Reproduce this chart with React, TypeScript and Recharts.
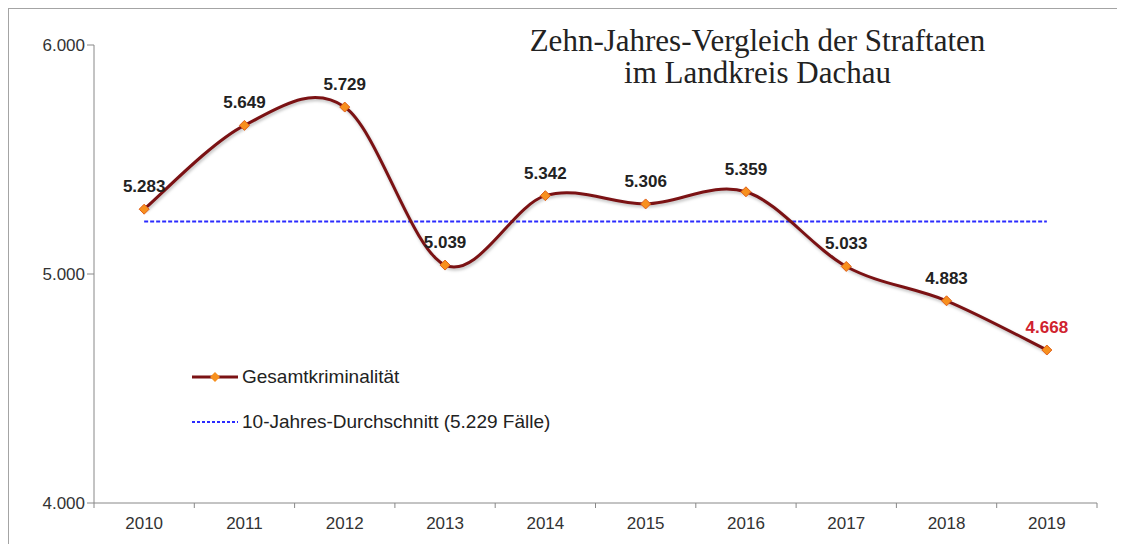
import { LineChart, Line, XAxis, YAxis, ReferenceLine, LabelList } from 'recharts';

// Straftaten im Landkreis Dachau, 2010 bis 2019
const years = ['2010', '2011', '2012', '2013', '2014', '2015', '2016', '2017', '2018', '2019'];
const offences = [5283, 5649, 5729, 5039, 5342, 5306, 5359, 5033, 4883, 4668];
const average = 5229;
const yTicks = [4000, 5000, 6000];
const highlightYear = '2019';

const titleLines = ['Zehn-Jahres-Vergleich der Straftaten', 'im Landkreis Dachau'];
const seriesName = 'Gesamtkriminalität';
const averageName = '10-Jahres-Durchschnitt (5.229 Fälle)';

const W = 1125;
const H = 544;
const PLOT_LEFT = 94;
const PLOT_RIGHT = 1097;
const BAND = (PLOT_RIGHT - PLOT_LEFT) / years.length;
const FONT = '"Liberation Sans", Arial, sans-serif';

const data = years.map((year, i) => ({ year, value: offences[i] }));

// 1.234 style thousands separator
const fmt = (v: number) => String(v).replace(/\B(?=(\d{3})+(?!\d))/g, '.');

// Excel-like smoothed line (Catmull-Rom through every point)
const smoothCurve = (context: any) => {
  let pts: number[][] = [];
  return {
    areaStart() {},
    areaEnd() {},
    lineStart() {
      pts = [];
    },
    point(x: number, y: number) {
      pts.push([+x, +y]);
    },
    lineEnd() {
      if (!pts.length) return;
      context.moveTo(pts[0][0], pts[0][1]);
      for (let i = 0; i < pts.length - 1; i++) {
        const p0 = pts[Math.max(i - 1, 0)];
        const p1 = pts[i];
        const p2 = pts[i + 1];
        const p3 = pts[Math.min(i + 2, pts.length - 1)];
        context.bezierCurveTo(
          p1[0] + (p2[0] - p0[0]) / 6,
          p1[1] + (p2[1] - p0[1]) / 6,
          p2[0] - (p3[0] - p1[0]) / 6,
          p2[1] - (p3[1] - p1[1]) / 6,
          p2[0],
          p2[1]
        );
      }
    },
  };
};

const Diamond = (props: any) => {
  const { cx, cy } = props;
  if (cx == null || cy == null) return null;
  const r = 5;
  return (
    <path
      d={`M${cx},${cy - r}L${cx + r},${cy}L${cx},${cy + r}L${cx - r},${cy}Z`}
      fill="#f7901e"
      stroke="#e0601a"
      strokeWidth={1}
    />
  );
};

const XTick = (props: any) => {
  const { x, y, payload, index } = props;
  const left = x - BAND / 2;
  const isLast = index === years.length - 1;
  return (
    <g>
      <line x1={left} y1={y} x2={left} y2={y + 5} stroke="#888" />
      {isLast && <line x1={x + BAND / 2} y1={y} x2={x + BAND / 2} y2={y + 5} stroke="#888" />}
      <text x={x} y={y + 26} textAnchor="middle" fontSize={17} fontFamily={FONT} fill="#333">
        {payload.value}
      </text>
    </g>
  );
};

const ValueLabel = (props: any) => {
  const { x, y, value, index } = props;
  const red = years[index] === highlightYear;
  return (
    <text
      x={x}
      y={y - 17}
      textAnchor="middle"
      fontSize={17}
      fontWeight="bold"
      fontFamily={FONT}
      fill={red ? '#d0222e' : '#222'}
    >
      {fmt(value)}
    </text>
  );
};

const LegendBox = () => (
  <div
    style={{
      position: 'absolute',
      left: 183,
      top: 357,
      fontFamily: FONT,
      fontSize: 19,
      color: '#222',
      lineHeight: '22px',
    }}
  >
    <div style={{ display: 'flex', alignItems: 'center', height: 22 }}>
      <svg width={50} height={12}>
        <line x1={0} y1={6} x2={46} y2={6} stroke="#7b1214" strokeWidth={3} />
        <path d="M23,1L28,6L23,11L18,6Z" fill="#f7901e" />
      </svg>
      <span>{seriesName}</span>
    </div>
    <div style={{ display: 'flex', alignItems: 'center', height: 22, marginTop: 23 }}>
      <svg width={50} height={12}>
        <line x1={0} y1={6} x2={46} y2={6} stroke="#2b2bff" strokeWidth={2} strokeDasharray="3 2" />
      </svg>
      <span>{averageName}</span>
    </div>
  </div>
);

export default function App() {
  return (
    <div
      style={{
        position: 'relative',
        width: 1113,
        height: 560,
        marginLeft: -1,
        marginTop: -1,
        border: '2px solid #a4a4a4',
        boxSizing: 'border-box',
        background: '#fff',
      }}
    >
      <div style={{ position: 'absolute', left: -9, top: -9, width: W, height: H }}>
        <LineChart
          width={W}
          height={H}
          data={data}
          margin={{ top: 45, right: W - PLOT_RIGHT, bottom: 11, left: 0 }}
        >
          <XAxis
            dataKey="year"
            scale="band"
            height={30}
            tickSize={0}
            tickMargin={0}
            tickLine={false}
            axisLine={{ stroke: '#888' }}
            tick={<XTick />}
            interval={0}
          />
          <YAxis
            width={PLOT_LEFT}
            domain={[4000, 6000]}
            ticks={yTicks}
            tickFormatter={fmt}
            tickSize={7}
            tickMargin={2}
            tickLine={{ stroke: '#888' }}
            axisLine={{ stroke: '#888' }}
            tick={{ fontSize: 17, fontFamily: FONT, fill: '#333' }}
          />
          <ReferenceLine
            segment={[
              { x: years[0], y: average },
              { x: years[years.length - 1], y: average },
            ]}
            stroke="#2b2bff"
            strokeWidth={2}
            strokeDasharray="4 2"
            ifOverflow="visible"
          />
          <Line
            dataKey="value"
            name={seriesName}
            type={smoothCurve as any}
            stroke="#7b1214"
            strokeWidth={3}
            dot={<Diamond />}
            activeDot={false}
            isAnimationActive={false}
            style={{ filter: 'drop-shadow(1px 2px 1.5px rgba(0,0,0,0.25))' }}
          >
            <LabelList dataKey="value" content={<ValueLabel />} />
          </Line>
        </LineChart>
      </div>
      <LegendBox />
      <div
        style={{
          position: 'absolute',
          left: 491,
          top: 16,
          width: 515,
          textAlign: 'center',
          fontFamily: '"Liberation Serif", "Times New Roman", serif',
          fontSize: 31,
          lineHeight: '32px',
          color: '#222',
        }}
      >
        {titleLines.map((t) => (
          <div key={t}>{t}</div>
        ))}
      </div>
    </div>
  );
}
